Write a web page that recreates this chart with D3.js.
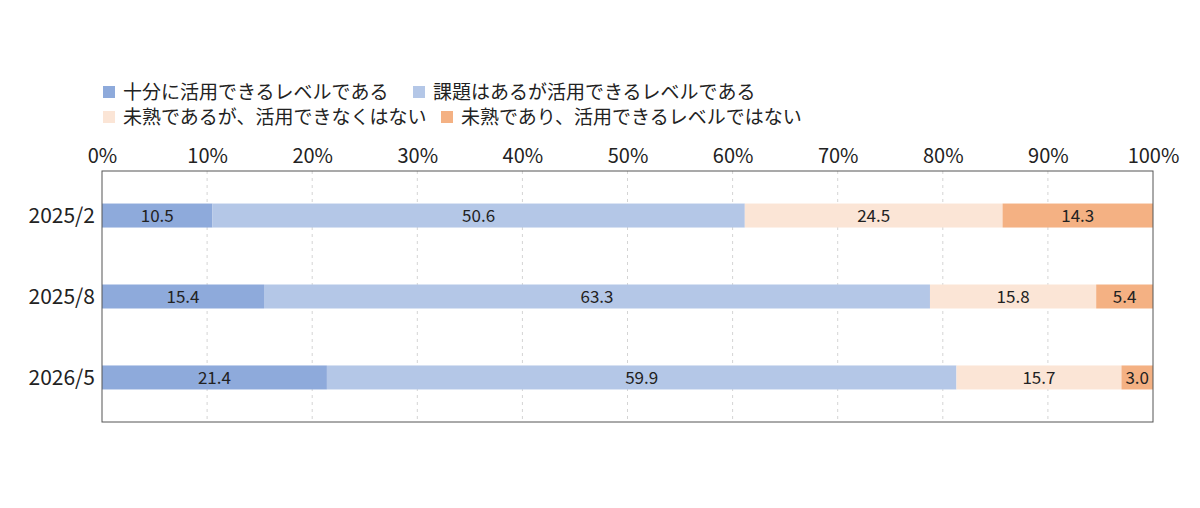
<!DOCTYPE html>
<html>
<head>
<meta charset="utf-8">
<script src="https://cdn.jsdelivr.net/npm/d3@7"></script>
<style>
  body { margin: 0; background: #fff; }
  svg text { font-family: "Noto Sans CJK JP", "Noto Sans", sans-serif; fill: #222; }
</style>
</head>
<body>
<svg id="chart"></svg>
<script>
// data //
var categories = ["2025/2", "2025/8", "2026/5"];
var seriesNames = [
  "十分に活用できるレベルである",
  "課題はあるが活用できるレベルである",
  "未熟であるが、活用できなくはない",
  "未熟であり、活用できるレベルではない"
];
var lvHigh = [10.5, 15.4, 21.4];
var lvMid = [50.6, 63.3, 59.9];
var lvLow = [24.5, 15.8, 15.7];
var lvNone = [14.3, 5.4, 3.0];
var tickValues = [0, 10, 20, 30, 40, 50, 60, 70, 80, 90, 100];
var colors = ["#8eaadb", "#b4c7e7", "#fbe5d6", "#f4b183"];

var screen = { width: 1200, height: 508 };
var margins = { top: 171, bottom: 86, left: 102, right: 47 };
var graph = {
  width: screen.width - margins.left - margins.right,
  height: screen.height - margins.top - margins.bottom
};

var svg = d3.select("#chart").attr("width", screen.width).attr("height", screen.height);

// build rows, normalised to 100% //
var allSeries = [lvHigh, lvMid, lvLow, lvNone];
var rows = categories.map(function (cat, i) {
  var row = { cat: cat };
  var total = 0;
  allSeries.forEach(function (s) { total += s[i]; });
  seriesNames.forEach(function (n, k) { row[n] = allSeries[k][i]; row["_" + k] = allSeries[k][i] / total * 100; });
  return row;
});
var stacked = d3.stack().keys([0, 1, 2, 3].map(function (k) { return "_" + k; }))(rows);

// scales //
var xScale = d3.scaleLinear().domain([0, 100]).range([0, graph.width]);
var yScale = d3.scalePoint().domain(categories).range([0, graph.height]).padding(0.55);
var barH = 24;

var g = svg.append("g").attr("transform", "translate(" + margins.left + "," + margins.top + ")");

// grid //
g.append("g").selectAll("line")
  .data(tickValues.slice(1, -1))
  .enter().append("line")
  .attr("x1", function (d) { return xScale(d); })
  .attr("x2", function (d) { return xScale(d); })
  .attr("y1", 0).attr("y2", graph.height)
  .attr("stroke", "#d4d4d4").attr("stroke-dasharray", "3,4");

// bars //
var layer = g.append("g").selectAll("g")
  .data(stacked).enter().append("g")
  .attr("fill", function (d, i) { return colors[i]; });

layer.selectAll("rect")
  .data(function (d) { return d; })
  .enter().append("rect")
  .attr("x", function (d) { return xScale(d[0]); })
  .attr("width", function (d) { return xScale(d[1]) - xScale(d[0]); })
  .attr("y", function (d) { return yScale(d.data.cat) - barH / 2; })
  .attr("height", barH);

// value labels //
stacked.forEach(function (s, k) {
  g.append("g").selectAll("text")
    .data(s).enter().append("text")
    .attr("x", function (d) { return xScale((d[0] + d[1]) / 2); })
    .attr("y", function (d) { return yScale(d.data.cat); })
    .attr("dy", "0.36em")
    .attr("text-anchor", "middle")
    .attr("font-size", 17)
    .text(function (d) { return d.data[seriesNames[k]].toFixed(1); });
});

// border //
g.append("rect")
  .attr("width", graph.width).attr("height", graph.height)
  .attr("fill", "none").attr("stroke", "#555").attr("stroke-width", 1);

// axes //
var xAxis = d3.axisTop(xScale).tickValues(tickValues).tickSize(0).tickPadding(8)
  .tickFormat(function (d) { return d + "%"; });
var xg = g.append("g").call(xAxis);
xg.select(".domain").remove();
xg.selectAll("text").attr("font-size", 20).attr("fill", "#222");

var yAxis = d3.axisLeft(yScale).tickSize(0).tickPadding(7);
var yg = g.append("g").call(yAxis);
yg.select(".domain").remove();
yg.selectAll("text").attr("font-size", 21).attr("fill", "#222");

// legend //
var legendPos = [
  { x: 103, y: 92 }, { x: 413, y: 92 },
  { x: 103, y: 117 }, { x: 441, y: 117 }
];
var legend = svg.append("g");
seriesNames.forEach(function (n, i) {
  var item = legend.append("g").attr("transform", "translate(" + legendPos[i].x + "," + legendPos[i].y + ")");
  item.append("rect").attr("x", 0).attr("y", -6).attr("width", 12).attr("height", 12).attr("fill", colors[i]);
  item.append("text").attr("x", 20).attr("y", 0).attr("dy", "0.36em").attr("font-size", 19).text(n);
});
</script>
</body>
</html>
